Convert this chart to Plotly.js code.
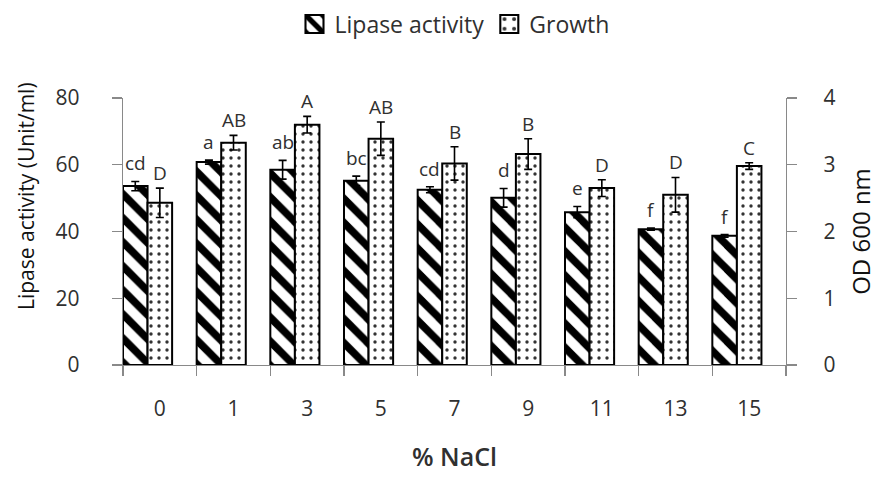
<!DOCTYPE html>
<html><head><meta charset="utf-8">
<script src="https://cdn.plot.ly/plotly-3.0.1.min.js"></script>
<style>html,body{margin:0;padding:0;background:#fff}</style>
</head><body>
<div id="chart" style="width:878px;height:477px"></div>
<script>
// Data
const nacl = ['0', '1', '3', '5', '7', '9', '11', '13', '15'];
const lipase = [53.6, 60.8, 58.5, 55.2, 52.5, 50.1, 45.8, 40.7, 38.7];
const lipaseErr = [1.4, 0.6, 2.8, 1.4, 0.9, 2.8, 1.7, 0.3, 0.4];
const growth = [2.43, 3.33, 3.60, 3.39, 3.02, 3.16, 2.65, 2.55, 2.98];
const growthErr = [0.22, 0.11, 0.125, 0.25, 0.25, 0.23, 0.125, 0.26, 0.05];
const lipaseLetters = ['cd', 'a', 'ab', 'bc', 'cd', 'd', 'e', 'f', 'f'];
const growthLetters = ['D', 'AB', 'A', 'AB', 'B', 'B', 'D', 'D', 'C'];
const leftTitle = 'Lipase activity (Unit/ml)';
const rightTitle = 'OD 600 nm';
const xTitle = '% NaCl';

const W = 878, H = 477;
const M = {l: 123, r: 92, t: 98, b: 112, autoexpand: false};
const plotW = W - M.l - M.r;
const plotH = H - M.t - M.b;
const catW = plotW / nacl.length;
const axisGray = '#898989';
const textCol = '#303030';
const FONT = 'Open Sans, Noto Sans, sans-serif';

const traces = [
  {
    type: 'bar', name: 'Lipase activity', x: nacl, y: lipase,
    xaxis: 'x', yaxis: 'y',
    offset: -0.5, width: 1 / 3,
    marker: {
      color: '#fff',
      line: {color: '#000', width: 2},
      pattern: {shape: '\\', fgcolor: '#000', bgcolor: '#fff', size: 17, solidity: 0.45, fillmode: 'replace'}
    },
    error_y: {type: 'data', array: lipaseErr, visible: true, color: '#000', thickness: 1.6, width: 4}
  },
  {
    type: 'bar', name: 'Growth', x: nacl, y: growth,
    xaxis: 'x', yaxis: 'y2',
    offset: -1 / 6, width: 1 / 3,
    marker: {
      color: '#fff',
      line: {color: '#000', width: 2},
      pattern: {shape: '.', fgcolor: '#333', bgcolor: '#fff', size: 8, solidity: 0.14, fillmode: 'replace'}
    },
    error_y: {type: 'data', array: growthErr, visible: true, color: '#000', thickness: 1.6, width: 4}
  }
];

const annotations = [];
nacl.forEach((c, i) => {
  annotations.push({
    x: i, y: lipase[i] + lipaseErr[i], xref: 'x', yref: 'y',
    text: lipaseLetters[i], showarrow: false, xanchor: 'center', yanchor: 'middle',
    xshift: -catW / 3, yshift: 18, font: {size: 19, color: textCol, family: FONT}
  });
  annotations.push({
    x: i, y: growth[i] + growthErr[i], xref: 'x', yref: 'y2',
    text: growthLetters[i], showarrow: false, xanchor: 'center', yanchor: 'middle',
    xshift: 0, yshift: 15, font: {size: 19, color: textCol, family: FONT}
  });
});
// left axis title (sits higher than the axis centre in the reference)
annotations.push({
  text: leftTitle, textangle: -90, showarrow: false,
  xref: 'paper', yref: 'paper', x: (26 - M.l) / plotW, y: (H - M.b - 196) / plotH,
  xanchor: 'center', yanchor: 'middle',
  font: {size: 21, color: '#111', family: FONT}
});

const yCommon = {
  ticks: 'outside', ticklen: 10, tickwidth: 1.3, tickcolor: axisGray,
  showline: true, linecolor: axisGray, linewidth: 1.3,
  showgrid: false, zeroline: false,
  tickfont: {size: 21, color: textCol, family: FONT}
};

const layout = {
  width: W, height: H,
  margin: M,
  paper_bgcolor: '#fff', plot_bgcolor: '#fff',
  font: {family: FONT, color: textCol, size: 20},
  barmode: 'overlay',
  showlegend: true,
  legend: {
    orientation: 'h', x: 0.5, xanchor: 'center', y: 1 + (M.t - 24) / plotH, yanchor: 'middle',
    font: {size: 23, color: textCol, family: FONT}, bgcolor: 'rgba(0,0,0,0)'
  },
  xaxis: {
    type: 'category', range: [-0.5, nacl.length - 0.5],
    tickson: 'boundaries', ticks: 'outside', ticklen: 10, tickwidth: 1.3, tickcolor: axisGray,
    showline: true, linecolor: axisGray, linewidth: 1.3, showgrid: false, zeroline: false,
    tickfont: {size: 21, color: textCol, family: FONT},
    ticklabelstandoff: 24,
    title: {text: xTitle, font: {size: 25, color: textCol, family: FONT, weight: 600}, standoff: 28}
  },
  yaxis: Object.assign({}, yCommon, {
    range: [0, 80], dtick: 20, side: 'left',
    ticklabelstandoff: 28
  }),
  yaxis2: Object.assign({}, yCommon, {
    range: [0, 4], dtick: 1, side: 'right', overlaying: 'y',
    ticklabelstandoff: 22,
    title: {text: rightTitle, font: {size: 24, color: '#111', family: FONT}, standoff: 18}
  }),
  annotations: annotations
};

Plotly.newPlot('chart', traces, layout, {displayModeBar: false, staticPlot: true}).then(() => {
  // enlarge legend swatches to match the reference's bigger boxes
  document.querySelectorAll('.legend .legendpoints path').forEach(p => {
    const t = p.getAttribute('transform') || '';
    p.setAttribute('transform', t + ' scale(1.5)');
    p.style.strokeWidth = '1.4px';
  });
});
</script>
</body></html>
